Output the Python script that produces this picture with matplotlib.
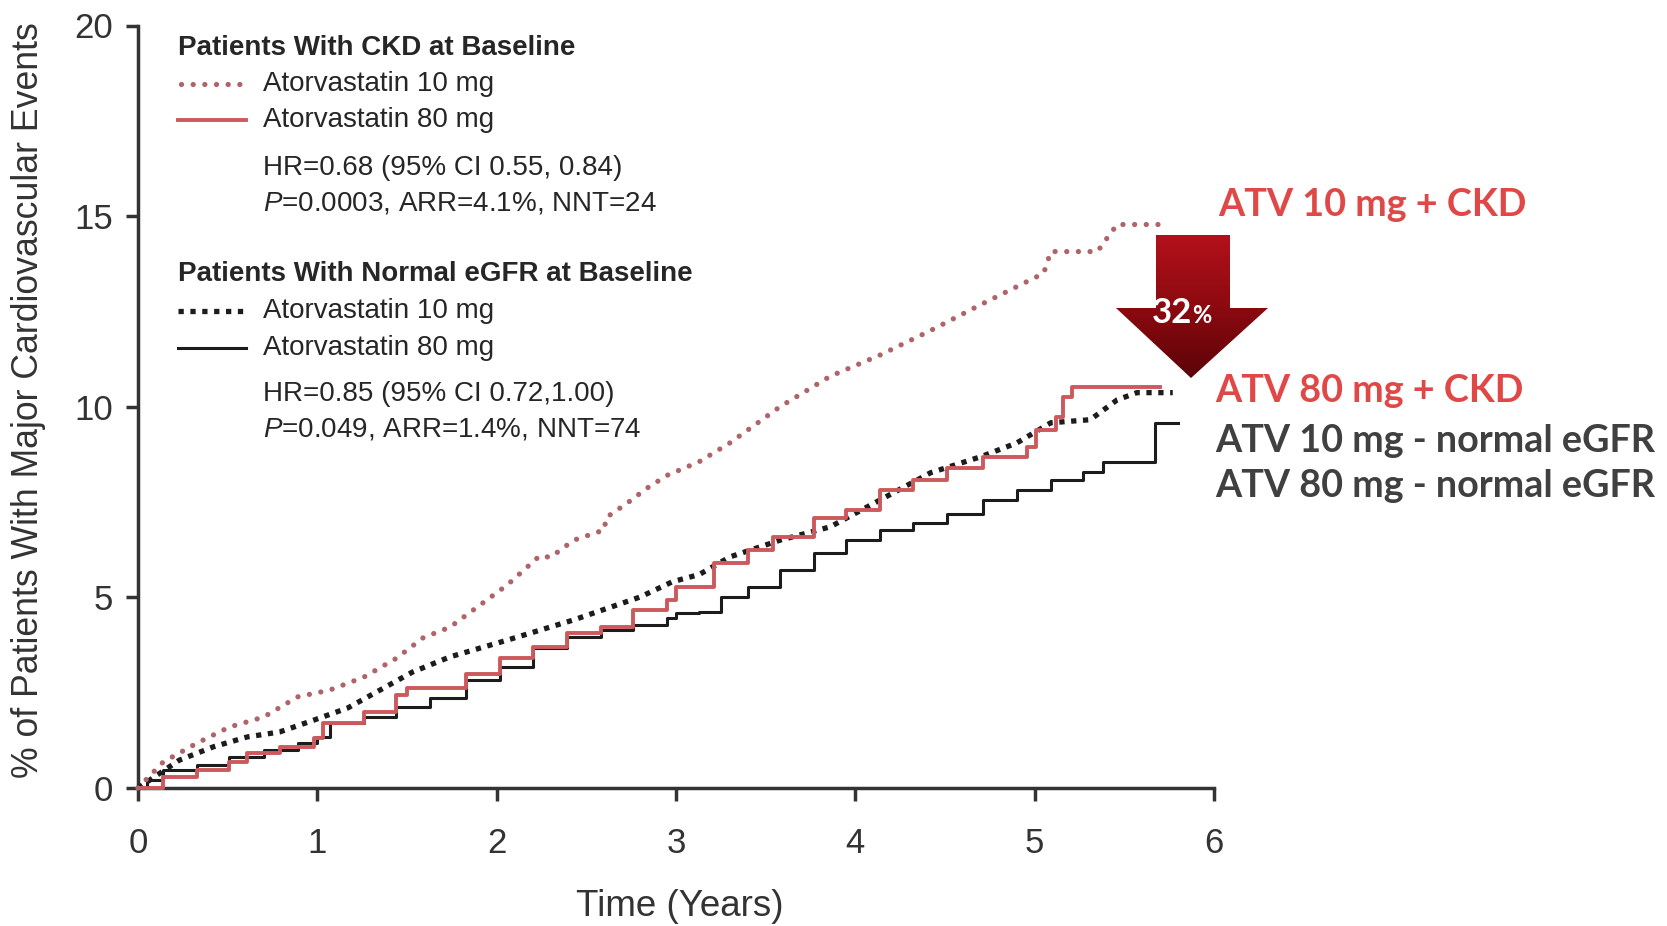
import numpy as np
import matplotlib.pyplot as plt
from matplotlib.patches import Polygon
from matplotlib.lines import Line2D
from matplotlib.colors import LinearSegmentedColormap

plt.rcParams['font.family'] = ['Liberation Sans', 'DejaVu Sans']
plt.rcParams['mathtext.fontset'] = 'custom'
plt.rcParams['mathtext.rm'] = 'Liberation Sans'
plt.rcParams['mathtext.it'] = 'Liberation Sans:italic'

# ---- data ----
ckd10_t = [0, 0.14, 0.33, 0.51, 0.70, 0.89, 1.07, 1.26, 1.44, 1.59, 1.74, 1.87, 2.06,
           2.24, 2.30, 2.43, 2.60, 2.61, 2.73, 2.84, 2.95, 3.13, 3.30, 3.58, 3.86, 4.14,
           4.42, 4.70, 5.05, 5.09, 5.35, 5.40, 5.46, 5.69]
ckd10_y = [0, 0.68, 1.18, 1.6, 1.86, 2.39, 2.57, 2.91, 3.4, 3.94, 4.22, 4.67, 5.33,
           6.09, 6.05, 6.5, 6.77, 7.09, 7.48, 7.87, 8.2, 8.56, 9.05, 10.0, 10.8, 11.36,
           12.0, 12.68, 13.5, 14.07, 14.07, 14.4, 14.78, 14.78]

ckd80_t = [0, 0.14, 0.33, 0.51, 0.61, 0.79, 0.98, 1.03, 1.26, 1.44, 1.50, 1.83, 2.02,
           2.20, 2.39, 2.58, 2.76, 2.95, 3.0, 3.21, 3.40, 3.54, 3.77, 3.95, 4.14, 4.32,
           4.51, 4.71, 4.96, 5.01, 5.12, 5.16, 5.21, 5.70]
ckd80_y = [0, 0.29, 0.47, 0.68, 0.92, 1.08, 1.31, 1.7, 2.0, 2.44, 2.62, 3.0, 3.4,
           3.7, 4.07, 4.22, 4.67, 4.93, 5.27, 5.9, 6.25, 6.59, 7.08, 7.3, 7.82, 8.08,
           8.4, 8.69, 8.95, 9.4, 9.74, 10.26, 10.52, 10.52]

norm10_t = [0, 0.23, 0.42, 0.61, 0.79, 0.98, 1.17, 1.35, 1.53, 1.74, 2.06, 2.43, 2.80,
            2.98, 3.13, 3.30, 3.58, 3.86, 4.14, 4.42, 4.70, 4.90, 5.09, 5.31, 5.46, 5.57,
            5.77]
norm10_y = [0, 0.73, 1.08, 1.34, 1.47, 1.78, 2.1, 2.57, 3.04, 3.44, 3.88, 4.41, 5.01,
            5.41, 5.6, 6.06, 6.5, 6.85, 7.56, 8.27, 8.69, 9.05, 9.58, 9.66, 10.18, 10.37,
            10.37]

norm80_t = [0, 0.05, 0.14, 0.33, 0.51, 0.70, 0.89, 1.0, 1.07, 1.26, 1.44, 1.63, 1.83,
            2.02, 2.2, 2.39, 2.58, 2.76, 2.95, 3.0, 3.13, 3.25, 3.40, 3.58, 3.77, 3.95,
            4.14, 4.32, 4.51, 4.71, 4.90, 5.09, 5.27, 5.38, 5.67, 5.80]
norm80_y = [0, 0.2, 0.47, 0.6, 0.81, 1.0, 1.18, 1.34, 1.7, 1.86, 2.13, 2.36, 2.83,
            3.18, 3.67, 3.96, 4.15, 4.28, 4.46, 4.59, 4.62, 5.0, 5.28, 5.72, 6.17, 6.5,
            6.77, 6.95, 7.2, 7.56, 7.82, 8.08, 8.29, 8.56, 9.58, 9.58]

x_ticks = [0, 1, 2, 3, 4, 5, 6]
y_ticks = [0, 5, 10, 15, 20]

RED_DOT = '#b0646a'
RED = '#cc5a5c'
BLACK = '#1c1c1c'
AXC = '#333333'
TXT = '#262626'
ANN_RED = '#e04848'
ANN_GRAY = '#404040'

W, H = 1667, 926
fig = plt.figure(figsize=(W / 100, H / 100), dpi=100)
fig.patch.set_facecolor('white')
ax = fig.add_axes([138 / W, 138 / H, 1076 / W, 762.5 / H])

ax.step(norm80_t, norm80_y, where='post', color=BLACK, lw=2.2, clip_on=False, zorder=3)
ax.plot(norm10_t, norm10_y, color=BLACK, lw=3.8,
        linestyle=(0, (1, 1.25)), dash_capstyle='butt', clip_on=False, zorder=3)
ax.step(ckd80_t, ckd80_y, where='post', color=RED, lw=2.8, clip_on=False, zorder=4)
ax.plot(ckd10_t, ckd10_y, color=RED_DOT, lw=3.8,
        linestyle=(0, (0.01, 2.2)), dash_capstyle='round', clip_on=False, zorder=4)

ax.set_xlim(0, 6)
ax.set_ylim(0, 20)
ax.set_xticks(x_ticks)
ax.set_yticks(y_ticks)
for s in ['top', 'right']:
    ax.spines[s].set_visible(False)
for s in ['left', 'bottom']:
    ax.spines[s].set_linewidth(2.5)
    ax.spines[s].set_color(AXC)
ax.tick_params(axis='both', direction='out', length=9, width=2.5, color=AXC,
               labelsize=25, labelcolor=AXC)
ax.tick_params(axis='x', pad=19)
ax.tick_params(axis='y', pad=9)
ax.patch.set_visible(False)

# ---- overlay in pixel coordinates for legend block and annotations ----
ov = fig.add_axes([0, 0, 1, 1])
ov.set_xlim(0, W)
ov.set_ylim(H, 0)
ov.axis('off')

ov.text(29, 400, '% of Patients With Major Cardiovascular Events', rotation=90,
        ha='center', va='center', fontsize=25.7, color=AXC)
ov.text(680, 906, 'Time (Years)', ha='center', va='center', fontsize=26.5, color=AXC)

LX, TX, FS = 178, 263, 20
ov.text(LX, 48, 'Patients With CKD at Baseline', ha='left', va='center',
        fontsize=FS, fontweight='bold', color=TXT)
ov.add_line(Line2D([181, 244], [84, 84], color=RED_DOT, lw=3.8,
                   linestyle=(0, (0.01, 2.2)), dash_capstyle='round'))
ov.text(TX, 84, 'Atorvastatin 10 mg', ha='left', va='center', fontsize=FS, color=TXT)
ov.add_line(Line2D([LX, 246], [120, 120], color=RED, lw=2.8))
ov.text(TX, 120, 'Atorvastatin 80 mg', ha='left', va='center', fontsize=FS, color=TXT)
ov.text(TX, 168, 'HR=0.68 (95% CI 0.55, 0.84)', ha='left', va='center',
        fontsize=FS, color=TXT)
ov.text(TX, 203, r'$\mathit{P}$=0.0003, ARR=4.1%, NNT=24', ha='left', va='center',
        fontsize=FS, color=TXT)

ov.text(LX, 274, 'Patients With Normal eGFR at Baseline', ha='left', va='center',
        fontsize=FS, fontweight='bold', color=TXT)
ov.add_line(Line2D([LX, 246], [311, 311], color=BLACK, lw=3.8,
                   linestyle=(0, (1, 1.25)), dash_capstyle='butt'))
ov.text(TX, 311, 'Atorvastatin 10 mg', ha='left', va='center', fontsize=FS, color=TXT)
ov.add_line(Line2D([LX, 246], [348, 348], color=BLACK, lw=2.2))
ov.text(TX, 348, 'Atorvastatin 80 mg', ha='left', va='center', fontsize=FS, color=TXT)
ov.text(TX, 394, 'HR=0.85 (95% CI 0.72,1.00)', ha='left', va='center',
        fontsize=FS, color=TXT)
ov.text(TX, 430, r'$\mathit{P}$=0.049, ARR=1.4%, NNT=74', ha='left', va='center',
        fontsize=FS, color=TXT)

# ---- gradient block arrow ----
arrow_pts = [(1156, 235), (1230, 235), (1230, 308), (1268, 308), (1191, 378),
             (1116, 308), (1156, 308)]
poly = Polygon(arrow_pts, closed=True, facecolor='none', edgecolor='none')
ov.add_patch(poly)
grad = np.linspace(0, 1, 256).reshape(-1, 1)
cmap = LinearSegmentedColormap.from_list('arr', ['#b3111a', '#8c0a10', '#5c0308'])
im = ov.imshow(grad, cmap=cmap, extent=[1116, 1268, 378, 235], aspect='auto',
               interpolation='bilinear', zorder=5)
im.set_clip_path(poly)
ov.set_xlim(0, W)
ov.set_ylim(H, 0)
ann_font = ['Lato', 'DejaVu Sans']
ov.text(1192, 323, '32', ha='right', va='baseline', fontsize=25, fontweight='bold',
        color='white', family=ann_font, zorder=6)
ov.text(1192, 323, '%', ha='left', va='baseline', fontsize=17, fontweight='bold',
        color='white', family=ann_font, zorder=6)

AFS = 27.2
ov.text(1218, 205, 'ATV 10 mg + CKD', ha='left', va='center', fontsize=AFS,
        fontweight='bold', color=ANN_RED, family=ann_font)
ov.text(1215, 391, 'ATV 80 mg + CKD', ha='left', va='center', fontsize=AFS,
        fontweight='bold', color=ANN_RED, family=ann_font)
ov.text(1215, 441, 'ATV 10 mg - normal eGFR', ha='left', va='center', fontsize=AFS,
        fontweight='bold', color=ANN_GRAY, family=ann_font)
ov.text(1215, 486, 'ATV 80 mg - normal eGFR', ha='left', va='center', fontsize=AFS,
        fontweight='bold', color=ANN_GRAY, family=ann_font)

fig.savefig('out.png', dpi=100, facecolor='white')
